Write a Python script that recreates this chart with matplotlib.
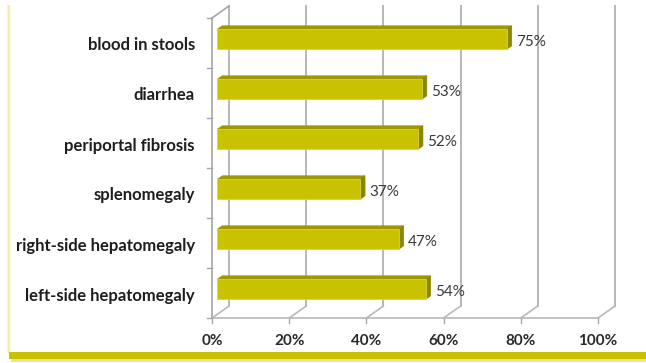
import matplotlib
matplotlib.use("Agg")
import matplotlib.pyplot as plt
from matplotlib.patches import Polygon, Rectangle
from matplotlib.lines import Line2D

# Symptoms, listed from bottom to top of the chart
categories = ["left-side hepatomegaly", "right-side hepatomegaly", "splenomegaly",
              "periportal fibrosis", "diarrhea", "blood in stools"]
values = [54, 47, 37, 52, 53, 75]
x_ticks = [0, 20, 40, 60, 80, 100]
x_tick_labels = ["0%", "20%", "40%", "60%", "80%", "100%"]

W, H = 646, 363
fig = plt.figure(figsize=(W / 100, H / 100), dpi=100)
fig.patch.set_facecolor("white")

# Front plane of the pseudo-3D plot area (pixels)
left_px, right_px, top_px, bottom_px = 212, 598, 18, 318
ax = fig.add_axes([left_px / W, 1 - bottom_px / H,
                   (right_px - left_px) / W, (bottom_px - top_px) / H])
ax.set_xlim(0, 100)
ax.set_ylim(0, len(categories))
ax.axis("off")

# Oblique depth of the chart box, in data units
px_x = 100 / (right_px - left_px)
px_y = len(categories) / (bottom_px - top_px)
DX = 17 * px_x
DY = 12 * px_y
d_front, d_back = 0.3, 0.6      # bar depth, as fractions of the box depth
half_h = 0.2                    # half bar thickness in category units

grid_c = "#b8b8b8"
axis_c = "#a6a6a6"
n = len(categories)

# Back wall gridlines and floor diagonals
for t in x_ticks:
    ax.add_line(Line2D([t + DX, t + DX], [DY, n + DY], color=grid_c, lw=1.4,
                       clip_on=False, zorder=1))
    ax.add_line(Line2D([t, t + DX], [0, DY], color=grid_c, lw=1.2,
                       clip_on=False, zorder=1))
    ax.add_line(Line2D([t, t], [0, -5 * px_y], color=axis_c, lw=1.0,
                       clip_on=False, zorder=1))

# Floor front edge, front vertical axis and its top diagonal
ax.add_line(Line2D([0, 100], [0, 0], color=grid_c, lw=1.2, clip_on=False, zorder=1))
ax.add_line(Line2D([0, 0], [0, n], color=axis_c, lw=1.2, clip_on=False, zorder=1))
ax.add_line(Line2D([0, DX], [n, n + DY], color=axis_c, lw=1.2, clip_on=False, zorder=1))
for b in range(n + 1):
    ax.add_line(Line2D([-5 * px_x, 0], [b, b], color=axis_c, lw=1.0,
                       clip_on=False, zorder=1))

front_c = "#c8c200"
top_c = "#9f9900"
side_c = "#8b8600"
edge_c = "#d6d24a"

for i, (cat, v) in enumerate(zip(categories, values)):
    c = i + 0.5
    fx0, fx1 = d_front * DX, v + d_front * DX
    bx0, bx1 = d_back * DX, v + d_back * DX
    fy0, fy1 = c - half_h + d_front * DY, c + half_h + d_front * DY
    by0, by1 = c - half_h + d_back * DY, c + half_h + d_back * DY
    # top face
    ax.add_patch(Polygon([(fx0, fy1), (fx1, fy1), (bx1, by1), (bx0, by1)],
                         closed=True, fc=top_c, ec=top_c, lw=0.5,
                         clip_on=False, zorder=3))
    # right face
    ax.add_patch(Polygon([(fx1, fy0), (fx1, fy1), (bx1, by1), (bx1, by0)],
                         closed=True, fc=side_c, ec=side_c, lw=0.5,
                         clip_on=False, zorder=3))
    # front face
    ax.add_patch(Rectangle((fx0, fy0), v, fy1 - fy0, fc=front_c, ec=edge_c,
                           lw=0.6, clip_on=False, zorder=4))
    # value label
    ax.annotate(f"{v}%", xy=(bx1, c + 0.02), xytext=(3, 0),
                textcoords="offset points", ha="left", va="center",
                fontsize=11, family="Lato", color="#3a3a3a", zorder=5)
    # category label
    ax.annotate(cat, xy=(0, c - 0.05), xytext=(-17, 0), textcoords="offset pixels",
                ha="right", va="center", fontsize=12, family="Lato",
                fontweight="bold", color="#1e1e1e")

for t, lab in zip(x_ticks, x_tick_labels):
    ax.annotate(lab, xy=(t, 0), xytext=(0, -23), textcoords="offset pixels",
                ha="center", va="center", fontsize=11, family="Lato",
                fontweight="bold", color="#2a2a2a")

# Chart border: soft yellow left edge and olive bottom band
for k, a in enumerate([0.25, 0.55, 0.35, 0.15]):
    fig.patches.append(Rectangle(((7 + k) / W, 10 / H), 1 / W, (H - 15) / H,
                                 transform=fig.transFigure, fc="#e4dc60",
                                 ec="none", alpha=a))
fig.patches.append(Rectangle((9 / W, 1 - 359 / H), 1 - 9 / W, 7 / H,
                             transform=fig.transFigure, fc="#c8c000", ec="none"))
fig.patches.append(Rectangle((11 / W, 1 - 362 / H), 1 - 11 / W, 3 / H,
                             transform=fig.transFigure, fc="#e6e29a", ec="none"))

fig.savefig("out.png", dpi=100, facecolor="white")
